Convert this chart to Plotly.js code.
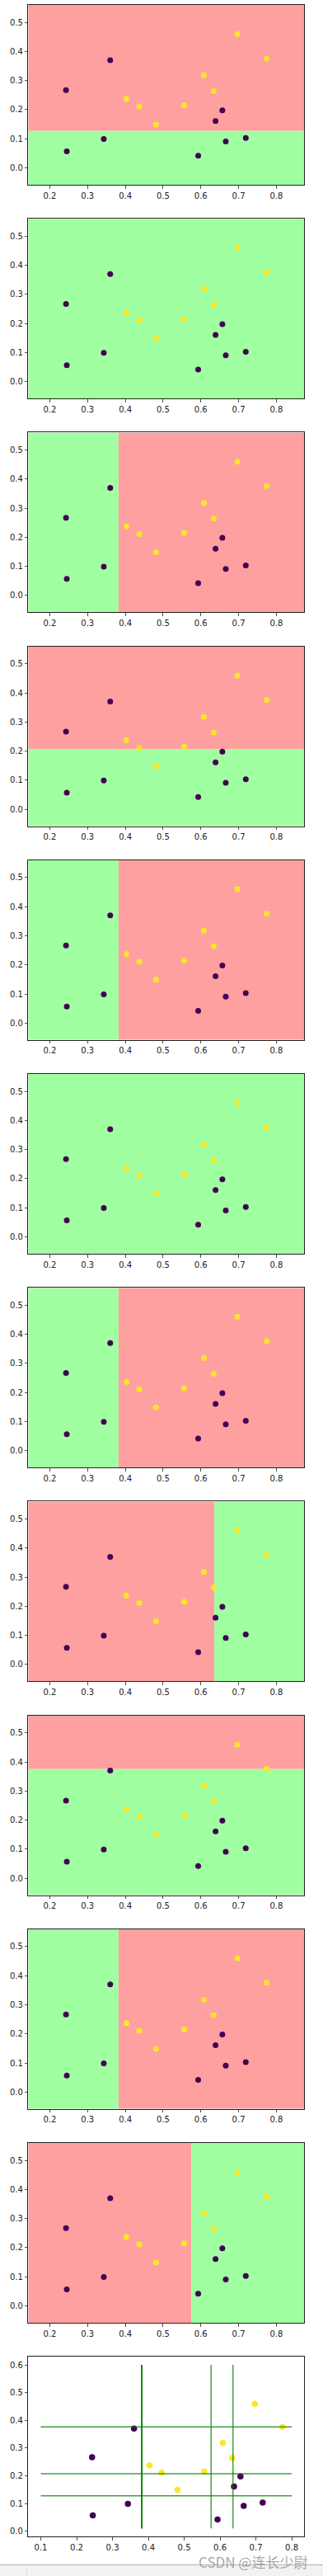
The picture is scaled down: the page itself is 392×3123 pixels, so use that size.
<!DOCTYPE html>
<html>
<head>
<meta charset="utf-8">
<script src="https://cdn.plot.ly/plotly-3.0.1.min.js"></script>
<style>html,body{margin:0;padding:0;background:#fff;}#chart{width:392px;height:3123px;}</style>
</head>
<body>
<div id="chart"></div>
<script>
// Data: watermelon-like points (density, sugar) with labels
const density = [0.697, 0.774, 0.634, 0.608, 0.556, 0.403, 0.481, 0.437, 0.666, 0.243, 0.245, 0.343, 0.639, 0.657, 0.360, 0.593, 0.719];
const sugar   = [0.460, 0.376, 0.264, 0.318, 0.215, 0.237, 0.149, 0.211, 0.091, 0.267, 0.057, 0.099, 0.161, 0.198, 0.370, 0.042, 0.103];
const label   = [1, 1, 1, 1, 1, 1, 1, 1, 0, 0, 0, 0, 0, 0, 0, 0, 0];

// Decision stumps (one per panel)
const stumpFeature   = ['y', 'all', 'x', 'y', 'x', 'all', 'x', 'x', 'y', 'x', 'x'];
const stumpThreshold = [0.128, null, 0.382, 0.207, 0.382, null, 0.382, 0.636, 0.376, 0.382, 0.575];
const stumpLowColor  = ['green', 'green', 'green', 'green', 'green', 'green', 'green', 'red', 'green', 'green', 'red'];
const stumpHighColor = ['red', 'green', 'red', 'red', 'red', 'green', 'red', 'green', 'red', 'red', 'green'];

// Ticks
const panelXTicks = [0.2, 0.3, 0.4, 0.5, 0.6, 0.7, 0.8];
const panelYTicks = [0.0, 0.1, 0.2, 0.3, 0.4, 0.5];
const lastXTicks  = [0.1, 0.2, 0.3, 0.4, 0.5, 0.6, 0.7, 0.8];
const lastYTicks  = [0.0, 0.1, 0.2, 0.3, 0.4, 0.5, 0.6];

// Extents of lines in the final panel
const hLineX = [0.1, 0.8];
const vLineY = [0.01, 0.6];

const regionColors = {red: '#FFA0A0', green: '#A0FFA0'};
const classColors = {0: '#440154', 1: '#FDE725'};

const W = 392, H = 3123;
const xPixL = 34.3, xPixR = 369.3;
const panelTop0 = 6, panelPitch = 259.2, panelH = 218;

const xMin = Math.min(...density) - 0.1, xMax = Math.max(...density) + 0.1;
const yMin = Math.min(...sugar) - 0.1, yMax = Math.max(...sugar) + 0.1;

const traces = [];
const shapes = [];
const layout = {
  width: W, height: H,
  margin: {l: 0, r: 0, t: 0, b: 0},
  paper_bgcolor: '#fff', plot_bgcolor: '#fff',
  showlegend: false,
  font: {family: 'DejaVu Sans', size: 10, color: '#222'},
  annotations: []
};

function axisCommon(ticks, range) {
  return {
    range: range,
    tickvals: ticks,
    ticktext: ticks.map(v => v.toFixed(1)),
    showgrid: false, zeroline: false,
    showline: true, linecolor: '#222', linewidth: 1, mirror: true,
    ticks: 'outside', ticklen: 3.5, tickwidth: 0.8, tickcolor: '#222',
    tickfont: {family: 'DejaVu Sans', size: 10, color: '#222'},
    fixedrange: true
  };
}

const nPanels = stumpFeature.length + 1;
for (let k = 0; k < nPanels; k++) {
  const n = k + 1;
  const xa = 'x' + (n === 1 ? '' : n), ya = 'y' + (n === 1 ? '' : n);
  const top = panelTop0 + k * panelPitch;
  const dom = [1 - (top + panelH) / H, 1 - top / H];
  const isLast = (k === nPanels - 1);
  let xr, yr, xt, yt;
  if (isLast) {
    const xs = hLineX, ys = vLineY;
    const mx = (xs[1] - xs[0]) * 0.05, my = (ys[1] - ys[0]) * 0.05;
    xr = [xs[0] - mx, xs[1] + mx];
    yr = [ys[0] - my, ys[1] + my];
    xt = lastXTicks; yt = lastYTicks;
  } else {
    xr = [xMin, xMax]; yr = [yMin, yMax];
    xt = panelXTicks; yt = panelYTicks;
  }
  const xax = axisCommon(xt, xr);
  xax.domain = [xPixL / W, xPixR / W];
  xax.anchor = ya;
  const yax = axisCommon(yt, yr);
  yax.domain = dom;
  yax.anchor = xa;
  layout['xaxis' + (n === 1 ? '' : n)] = xax;
  layout['yaxis' + (n === 1 ? '' : n)] = yax;

  if (!isLast) {
    const f = stumpFeature[k], t = stumpThreshold[k];
    const lo = regionColors[stumpLowColor[k]], hi = regionColors[stumpHighColor[k]];
    const rect = (x0, x1, y0, y1, c) => shapes.push({type: 'rect', xref: xa, yref: ya, x0, x1, y0, y1,
      fillcolor: c, line: {width: 0}, layer: 'below'});
    if (f === 'all') {
      rect(xr[0], xr[1], yr[0], yr[1], lo);
    } else if (f === 'y') {
      rect(xr[0], xr[1], yr[0], t, lo);
      rect(xr[0], xr[1], t, yr[1], hi);
    } else {
      rect(xr[0], t, yr[0], yr[1], lo);
      rect(t, xr[1], yr[0], yr[1], hi);
    }
  }

  // points
  [0, 1].forEach(c => {
    const px = [], py = [];
    for (let i = 0; i < density.length; i++) if (label[i] === c) { px.push(density[i]); py.push(sugar[i]); }
    traces.push({type: 'scatter', mode: 'markers', x: px, y: py, xaxis: xa, yaxis: ya,
      marker: {color: classColors[c], size: isLast ? 7.5 : 7, line: {width: 0}}, hoverinfo: 'skip'});
  });

  if (isLast) {
    for (let j = 0; j < stumpFeature.length; j++) {
      const f = stumpFeature[j], t = stumpThreshold[j];
      if (f === 'all') continue;
      let lx, ly;
      if (f === 'y') { lx = hLineX; ly = [t, t]; }
      else { lx = [t, t]; ly = vLineY; }
      traces.push({type: 'scatter', mode: 'lines', x: lx, y: ly, xaxis: xa, yaxis: ya,
        line: {color: 'rgba(0,128,0,0.75)', width: 1.5}, hoverinfo: 'skip'});
    }
  }
}

// Page footer (watermark + bottom bar)
shapes.push({type: 'rect', xref: 'paper', yref: 'paper', x0: 0, x1: 1, y0: 0, y1: 1 - 3109.5 / H,
  fillcolor: '#f2f2f2', line: {width: 0}, layer: 'above'});
shapes.push({type: 'line', xref: 'paper', yref: 'paper', x0: 0, x1: 1, y0: 1 - 3109.5 / H, y1: 1 - 3109.5 / H,
  line: {color: '#b0b0b0', width: 1}, layer: 'above'});
shapes.push({type: 'line', xref: 'paper', yref: 'paper', x0: 32.5 / W, x1: 32.5 / W, y0: 0, y1: 1 - 3113 / H,
  line: {color: '#dcdcdc', width: 1}, layer: 'above'});
layout.annotations.push({xref: 'paper', yref: 'paper', x: 239 / W, y: 1 - 3105.5 / H,
  xanchor: 'left', yanchor: 'middle', showarrow: false, text: 'CSDN @连长少尉',
  font: {family: 'Noto Sans CJK SC', size: 17, color: 'rgba(150,150,150,0.85)'}});

layout.shapes = shapes;
Plotly.newPlot('chart', traces, layout, {staticPlot: true, displayModeBar: false});
</script>
</body>
</html>
